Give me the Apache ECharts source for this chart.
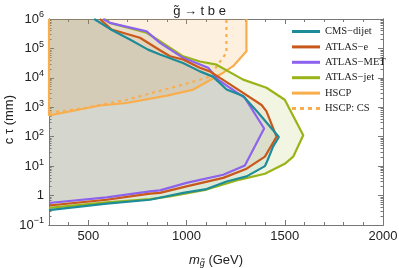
<!DOCTYPE html>
<html><head><meta charset="utf-8">
<script src="https://cdn.jsdelivr.net/npm/echarts@6/dist/echarts.min.js"></script>
<style>html,body{margin:0;padding:0;background:#fff}#c{width:399px;height:268px}</style>
</head><body><div id="c"></div>
<script>
// ---- data: [m_gluino (GeV), c tau (mm)] ----
const cmsDijet = [[530,1e6],[610,4.6e5],[712,2.0e5],[804,9.1e4],[865,6.2e4],[982,3.2e4],[1068,1.66e4],[1134,1.1e4],[1204,4.0e3],[1288,2.4e3],[1365,650],[1470,98],[1441,47],[1407,13],[1399,10],[1306,4.5],[1204,3.0],[1102,1.66],[983,1.23],[814,0.72],[594,0.53],[300,0.32]];
const atlasE = [[559,1e6],[619,4.4e5],[763,2.3e5],[865,8.7e4],[916,5.4e4],[982,4.2e4],[1068,2.2e4],[1119,1.66e4],[1255,4.3e3],[1382,1.2e3],[1407,730],[1458,100],[1399,21],[1306,8.2],[1187,4.0],[1000,2.05],[865,1.23],[814,1.16],[594,0.72],[300,0.46]];
const atlasMET = [[576,1e6],[610,7.4e5],[797,3.8e5],[865,1.55e5],[983,4.8e4],[1110,2.2e4],[1161,8.7e3],[1221,4.6e3],[1297,2.1e3],[1395,190],[1348,47],[1297,10.5],[1187,5.1],[1000,2.7],[865,1.5],[814,1.38],[594,0.87],[300,0.56]];
const atlasJet = [[585,1e6],[610,7.4e5],[797,3.4e5],[865,1.76e5],[983,5.4e4],[1068,3.6e4],[1153,2.8e4],[1288,8.7e3],[1407,4.6e3],[1500,1.8e3],[1594,112],[1543,21],[1500,12],[1399,5.5],[1272,3.5],[1102,1.6],[916,0.93],[814,0.76],[594,0.59],[300,0.38]];
const hscp = [[300,1e6],[300,525],[560,1150],[695,1400],[900,2500],[1034,4000],[1187,1.5e4],[1237,2.5e4],[1305,8e4],[1305,1e6]];
const hscpCS = [[300,660],[458,890],[695,1800],[1016,6800],[1118,1.1e4],[1178,4.2e4],[1203,7e4],[1203,1e6]];
// ---- axis ticks ----
const xMajorTicks = [500,1000,1500,2000];
const yDecades = [0.1,1,10,100,1e3,1e4,1e5,1e6];
const legendNames = ['CMS−dijet','ATLAS−e','ATLAS−MET','ATLAS−jet','HSCP','HSCP: CS'];

const yMinorTicks = [];
for (let e = -1; e < 6; e++) for (let k = 2; k <= 9; k++) yMinorTicks.push(k * Math.pow(10, e));

const colors = {cms:'#1e8c98', e:'#c8581c', met:'#8c62ee', jet:'#98b418', hscp:'#f9ae4e'};

const chart = echarts.init(document.getElementById('c'), null, {renderer:'canvas'});

function fillSeries(name, pts, closeStart, color, op, z){
  const poly = closeStart ? [[300,1e6]].concat(pts) : pts;
  return {
    type:'custom', name: name + '_fill', data: poly, z: z, silent:true,
    renderItem: function(params, api){
      if (params.dataIndex !== 0) return null;
      const p = poly.map(d => api.coord(d));
      return {type:'polygon', shape:{points:p}, style:{fill:color, opacity:op}};
    }
  };
}
function lineSeries(name, pts, color, type){
  return {type:'line', name:name, data:pts, symbol:'none', showSymbol:false, z:5, clip:true,
    lineStyle:{color:color, width:2.2, type:type||'solid'}, itemStyle:{color:color}};
}
const axisGray = '#777';
const fontSans = 'Liberation Sans, Arial, sans-serif';
const supFmt = function(v){
  const e = Math.round(Math.log10(v));
  if (e === 0) return '1';
  return '10{s|' + (e < 0 ? '−' + (-e) : e) + '}';
};

const baseX = {type:'value', min:300, max:2000, interval:100, gridIndex:0,
  axisLine:{show:true, lineStyle:{color:axisGray, width:1}}, splitLine:{show:false}};
const baseY = {type:'log', logBase:10, min:0.1, max:1e6, gridIndex:0,
  axisLine:{show:true, lineStyle:{color:axisGray, width:1}}, splitLine:{show:false}};

const solidIcon = 'path://M0,0h28v3h-28z';
const dashIcon = 'path://M0,0h4v3h-4z M8,0h4v3h-4z M16,0h4v3h-4z M24,0h4v3h-4z';

const option = {
  animation:false,
  title:{text:'g̃ → t b e', left:'center', top:0, textStyle:{fontFamily:fontSans, fontSize:13, fontWeight:'normal', color:'#222'}},
  grid:{left:49, right:16, top:19, bottom:43, containLabel:false, outerBoundsMode:'none'},
  graphic:[{type:'text', left:3, top:95, rotation:Math.PI/2, silent:true,
    style:{text:'c τ (mm)', fontFamily:fontSans, fontSize:13, fill:'#222'}}],
  legend:{orient:'vertical', left:287, top:21, itemWidth:28, itemHeight:3, itemGap:4.4,
    textStyle:{fontFamily:'Liberation Serif, Times New Roman, serif', fontSize:10.5, fontWeight:'normal', color:'#222'},
    data:legendNames.map((n,i) => ({name:n, icon: i === 5 ? dashIcon : solidIcon}))},
  xAxis:[
    Object.assign({}, baseX, {position:'bottom',
      axisTick:{show:true, inside:true, length:3, lineStyle:{color:axisGray}},
      axisLabel:{customValues:xMajorTicks, formatter:v => String(v), fontFamily:fontSans, fontSize:13, color:'#222', margin:5},
      name:'{i|m}{sub|g̃} (GeV)', nameLocation:'middle', nameGap:28,
      nameTextStyle:{fontFamily:fontSans, fontSize:13, color:'#222',
        rich:{i:{fontStyle:'italic', fontFamily:fontSans, fontSize:13, color:'#222'},
              sub:{fontStyle:'italic', fontFamily:fontSans, fontSize:9, color:'#222', verticalAlign:'bottom', padding:[6,0,0,0]}}}}),
    Object.assign({}, baseX, {position:'bottom', axisLabel:{show:false},
      axisTick:{show:true, inside:true, length:5, customValues:xMajorTicks, lineStyle:{color:axisGray}}}),
    Object.assign({}, baseX, {position:'top', axisLabel:{show:false},
      axisTick:{show:true, inside:true, length:3, lineStyle:{color:axisGray}}}),
    Object.assign({}, baseX, {position:'top', axisLabel:{show:false},
      axisTick:{show:true, inside:true, length:5, customValues:xMajorTicks, lineStyle:{color:axisGray}}})
  ],
  yAxis:[
    Object.assign({}, baseY, {position:'left',
      axisTick:{show:true, inside:true, length:5, customValues:yDecades, lineStyle:{color:axisGray}},
      axisLabel:{customValues:yDecades, formatter:supFmt, fontFamily:fontSans, fontSize:13, color:'#222', margin:5,
        rich:{s:{fontSize:9, fontFamily:fontSans, color:'#222', verticalAlign:'top', padding:[0,0,8,0]}}}}),
    Object.assign({}, baseY, {position:'left', axisLabel:{show:false},
      axisTick:{show:true, inside:true, length:2.5, customValues:yMinorTicks, lineStyle:{color:axisGray}}}),
    Object.assign({}, baseY, {position:'right', axisLabel:{show:false},
      axisTick:{show:true, inside:true, length:5, customValues:yDecades, lineStyle:{color:axisGray}}}),
    Object.assign({}, baseY, {position:'right', axisLabel:{show:false},
      axisTick:{show:true, inside:true, length:2.5, customValues:yMinorTicks, lineStyle:{color:axisGray}}})
  ],
  series:[
    fillSeries('HSCP', hscp, false, colors.hscp, 0.18, 1),
    fillSeries('ATLAS−jet', atlasJet, true, colors.jet, 0.13, 1),
    fillSeries('CMS−dijet', cmsDijet, true, colors.cms, 0.1, 1),
    fillSeries('ATLAS−e', atlasE, true, colors.e, 0.08, 1),
    fillSeries('ATLAS−MET', atlasMET, true, colors.met, 0.08, 1),
    lineSeries('HSCP', hscp, colors.hscp),
    lineSeries('HSCP: CS', hscpCS, colors.hscp, [3,4]),
    lineSeries('ATLAS−jet', atlasJet, colors.jet),
    lineSeries('ATLAS−MET', atlasMET, colors.met),
    lineSeries('ATLAS−e', atlasE, colors.e),
    lineSeries('CMS−dijet', cmsDijet, colors.cms)
  ]
};
chart.setOption(option);
</script></body></html>
